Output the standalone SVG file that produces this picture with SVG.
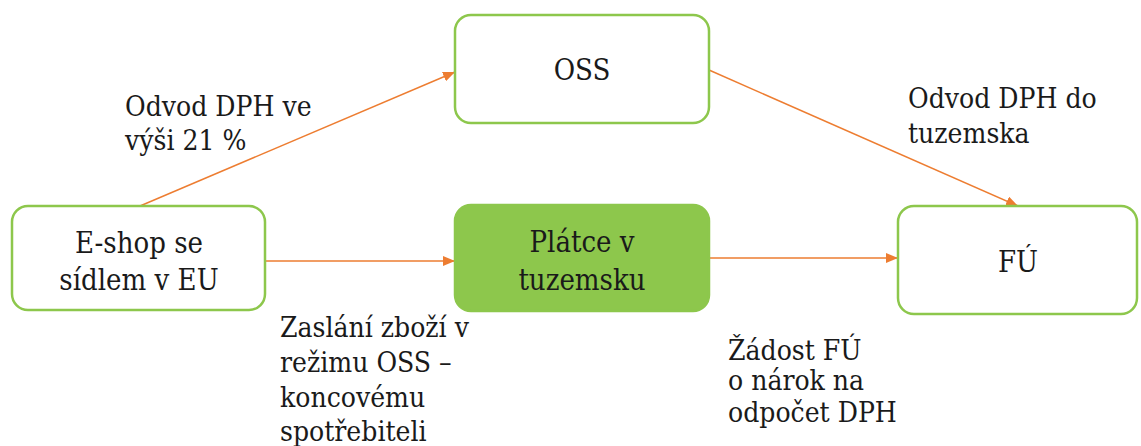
<svg xmlns="http://www.w3.org/2000/svg" width="1141" height="446" viewBox="0 0 1141 446">
  <defs>
    <marker id="arrow" viewBox="0 0 12 10" refX="12" refY="5" markerWidth="12" markerHeight="10" markerUnits="userSpaceOnUse" orient="auto">
      <path d="M0,0 L12,5 L0,10 Z" fill="#ED7D31"/>
    </marker>
  </defs>
  <style>
    text { font-family: 'DejaVu Serif Condensed', 'DejaVu Serif', serif; fill: #1a1a1a; }
    .box { fill: #ffffff; stroke: #8DC74C; stroke-width: 2.5; }
    .box.filled { fill: #8DC74C; }
    .node { font-size: 29px; text-anchor: middle; }
    .label { font-size: 28px; }
    .edge { stroke: #ED7D31; stroke-width: 1.5; fill: none; marker-end: url(#arrow); }
  </style>
  <rect width="1141" height="446" fill="#ffffff"/>

  <!-- connectors -->
  <g id="connectors">
    <line class="edge" x1="140" y1="206" x2="455" y2="72"/>
    <line class="edge" x1="709" y1="70" x2="1018" y2="206"/>
    <line class="edge" x1="265" y1="261" x2="455" y2="261"/>
    <line class="edge" x1="709" y1="258" x2="898" y2="258"/>
  </g>

  <!-- nodes -->
  <g id="node-eshop">
    <rect class="box" x="12" y="206" width="253" height="104" rx="16"/>
    <text class="node" x="139" y="253">E-shop se</text>
    <text class="node" x="139" y="290">sídlem v EU</text>
  </g>
  <g id="node-oss">
    <rect class="box" x="455" y="15" width="254" height="108" rx="16"/>
    <text class="node" x="582" y="80">OSS</text>
  </g>
  <g id="node-platce">
    <rect class="box filled" x="455" y="205" width="254" height="106" rx="16"/>
    <text class="node" x="582" y="252">Plátce v</text>
    <text class="node" x="582" y="290">tuzemsku</text>
  </g>
  <g id="node-fu">
    <rect class="box" x="898" y="206" width="239" height="108" rx="16"/>
    <text class="node" x="1018" y="272">FÚ</text>
  </g>

  <!-- connector labels -->
  <g id="labels">
    <text class="label" x="125" y="116">Odvod DPH ve</text>
    <text class="label" x="125" y="150">výši 21 %</text>
    <text class="label" x="908" y="108">Odvod DPH do</text>
    <text class="label" x="908" y="143">tuzemska</text>
    <text class="label" x="280" y="337">Zaslání zboží v</text>
    <text class="label" x="280" y="372">režimu OSS –</text>
    <text class="label" x="280" y="407">koncovému</text>
    <text class="label" x="280" y="441">spotřebiteli</text>
    <text class="label" x="728" y="360">Žádost FÚ</text>
    <text class="label" x="728" y="390">o nárok na</text>
    <text class="label" x="728" y="422">odpočet DPH</text>
  </g>
</svg>
